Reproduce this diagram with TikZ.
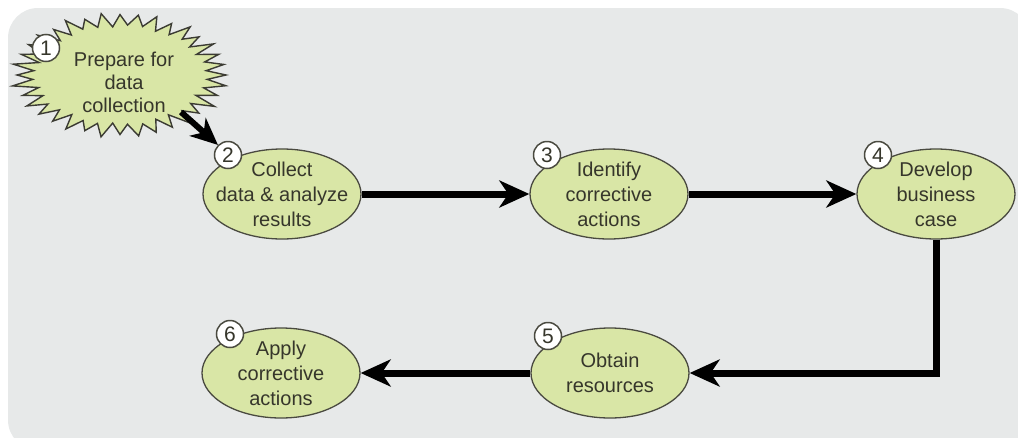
\documentclass[tikz,border=0pt]{standalone}
\usepackage{fontspec}
\setmainfont{Liberation Sans}
\usetikzlibrary{shapes.geometric,arrows.meta,calc}
\definecolor{panel}{HTML}{E7E9E9}
\definecolor{stagefill}{HTML}{D9E6A6}
\definecolor{stageline}{HTML}{4A4A40}
\definecolor{ink}{HTML}{36362B}
\tikzset{
  stage/.style={ellipse, draw=stageline, line width=1.3pt, fill=stagefill,
    minimum width=158pt, minimum height=90pt, inner sep=0pt},
  stagetext/.style={text=ink, align=center, font=\fontsize{20}{25}\selectfont, inner sep=0pt},
  badge/.style={circle, draw=stageline, line width=1.5pt, fill=white,
    minimum size=27pt, inner sep=0pt, text=ink, font=\fontsize{21}{21}\selectfont},
  flow/.style={line width=7pt, -{Stealth[length=30pt, width=27pt, inset=9pt]}},
}
\begin{document}
\begin{tikzpicture}[x=1pt, y=-1pt]
\useasboundingbox (0,0) rectangle (1018,437);
% backdrop panel
\fill[panel, rounded corners=30pt] (8,8) rectangle (1030,450);

% step 1: starburst
\coordinate (st) at (120,75);
\filldraw[fill=stagefill, draw=stageline!80!black, line width=1.4pt, line join=miter]
  (st) ++(0:106 and 61)
  \foreach \i [evaluate=\i as \r using {mod(\i,2)==0 ? 1+0.03*sin(\i*77) : 0.81+0.02*sin(\i*53)}] in {1,...,71} {
    -- ($(st)+({\i*5}:{106*\r} and {61*\r})$)
  } -- cycle;
\node[stagetext, font=\fontsize{20}{23}\selectfont] (t1) at (124,82) {Prepare for\\data\\collection};
\node[badge] (c1) at (46,48) {1};
\coordinate (s1) at (181,112);

% steps 2-6
\node[stage] (n2) at (282,194) {};
\node[stagetext] at (n2) {Collect\\data \& analyze\\results};
\node[badge] (c2) at (228,155) {2};

\node[stage] (n3) at (609,194) {};
\node[stagetext] at (n3) {Identify\\corrective\\actions};
\node[badge] (c3) at (547,155) {3};

\node[stage] (n4) at (936,194) {};
\node[stagetext] at (n4) {Develop\\business\\case};
\node[badge] (c4) at (878,155) {4};

\node[stage] (n5) at (610,373) {};
\node[stagetext] at (n5) {Obtain\\resources};
\node[badge] (c5) at (548,336) {5};

\node[stage] (n6) at (281,373) {};
\node[stagetext] at (n6) {Apply\\corrective\\actions};
\node[badge] (c6) at (230,334) {6};

% connectors
\draw[flow, line width=6pt, -{Stealth[length=27pt, width=24pt, inset=8pt]}] (s1) -- (c2.north west);
\draw[flow] (n2.east) -- (n3.west);
\draw[flow] (n3.east) -- (n4.west);
\draw[flow] (n4.south) |- (n5.east);
\draw[flow] (n5.west) -- (n6.east);
\end{tikzpicture}
\end{document}
